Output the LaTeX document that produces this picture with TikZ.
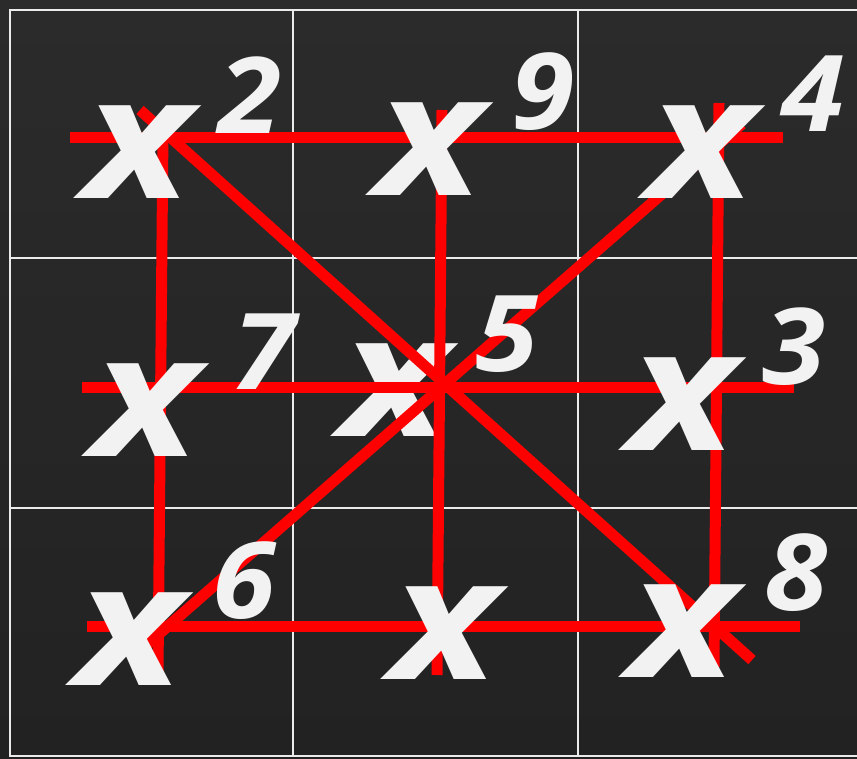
\documentclass[tikz,border=0pt]{standalone}
\usepackage{fontspec}
\setmainfont{Open Sans}
\usepackage{xcolor}
\usepackage{graphicx}
\usetikzlibrary{positioning}
\definecolor{board}{HTML}{2B2B2B}
\definecolor{boardlow}{HTML}{222222}
\definecolor{chalk}{HTML}{F2F2F2}
\tikzset{
  gridline/.style={draw=white!92!black,line width=1.8pt},
  redline/.style ={draw=red,line width=11pt},
  bigx/.style    ={inner sep=0pt,text=chalk,font=\fontsize{170}{170}\selectfont\bfseries\itshape},
  num/.style     ={inner sep=0pt,text=chalk,font=\fontsize{106}{106}\selectfont\bfseries\itshape},
}
\newcommand{\wideX}{\scalebox{1.2}[1]{x}}
\newcommand{\wideN}[1]{\scalebox{1.08}[1]{#1}}

\begin{document}
\begin{tikzpicture}[x=1pt,y=-1pt]
  \useasboundingbox (0,0) rectangle (857,758);
  % chalkboard
  \shade[top color=board,bottom color=boardlow] (0,0) rectangle (857,758);
  \draw[gridline] (10,10) rectangle (870,756);
  \foreach \gx in {293,578} \draw[gridline] (\gx,10) -- (\gx,756);
  \foreach \gy in {258,508} \draw[gridline] (10,\gy) -- (870,\gy);
  % middle x sits under the lines
  \node[bigx] (x5) at (395,390) {\wideX};
  % line ends
  \coordinate (r1a) at (70,137);  \coordinate (r1b) at (783,137);
  \coordinate (r2a) at (82,387);  \coordinate (r2b) at (794,387);
  \coordinate (r3a) at (87,626);  \coordinate (r3b) at (800,626);
  \coordinate (c1a) at (163,131); \coordinate (c1b) at (158,673);
  \coordinate (c2a) at (442,110); \coordinate (c2b) at (437,675);
  \coordinate (c3a) at (719,103); \coordinate (c3b) at (714,667);
  \coordinate (d1a) at (140,110); \coordinate (d1b) at (752,660);
  \coordinate (d2a) at (742,124); \coordinate (d2b) at (143,648);
  \foreach \la/\lb in {r1a/r1b,r2a/r2b,r3a/r3b,c1a/c1b,c2a/c2b,c3a/c3b,d1a/d1b,d2a/d2b}
    \draw[redline] (\la) -- (\lb);
  % the other x marks
  \node[bigx] (x1) at (138,152) {\wideX};
  \node[bigx] (x2) at (430,149) {\wideX};
  \node[bigx] (x3) at (702,152) {\wideX};
  \node[bigx] (x4) at (146,410) {\wideX};
  \node[bigx] (x6) at (683,404) {\wideX};
  \node[bigx] (x7) at (130,639) {\wideX};
  \node[bigx] (x8) at (445,633) {\wideX};
  \node[bigx] (x9) at (683,631) {\wideX};
  % numbers
  \node[num] (n2) at (250,95)  {\wideN{2}};
  \node[num] (n9) at (543,92)  {\wideN{9}};
  \node[num] (n4) at (813,94)  {\wideN{4}};
  \node[num] (n7) at (264,352) {\wideN{7}};
  \node[num] (n5) at (507,334) {\wideN{5}};
  \node[num] (n3) at (794,347) {\wideN{3}};
  \node[num] (n6) at (244,581) {\wideN{6}};
  \node[num] (n8) at (796,573) {\wideN{8}};
\end{tikzpicture}
\end{document}
